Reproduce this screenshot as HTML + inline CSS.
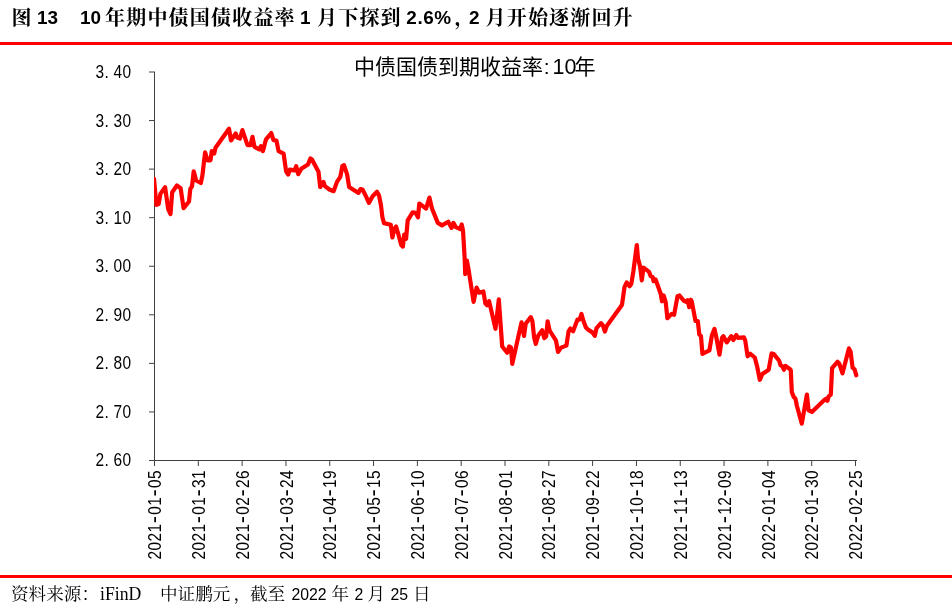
<!DOCTYPE html>
<html lang="zh-CN">
<head>
<meta charset="utf-8">
<title>图 13 10 年期中债国债收益率</title>
<style>
html,body{margin:0;padding:0;background:#fff;}
body{width:952px;height:612px;position:relative;overflow:hidden;}
.rule{position:absolute;left:0;width:952px;height:3px;background:#ff0000;}
.t{position:absolute;white-space:nowrap;color:#000;line-height:1;}
.title{top:8px;font-weight:bold;font-size:20px;letter-spacing:1.2px;font-family:"Liberation Sans","Noto Serif CJK SC",serif;}
.title .n{font-size:18.9px;letter-spacing:0;position:relative;top:-0.6px;font-family:"Liberation Sans",sans-serif;}
.src{top:585.7px;font-size:17.6px;font-family:"Liberation Serif","Noto Serif CJK SC",serif;}
.src .n{font-size:15.8px;font-family:"Liberation Sans",sans-serif;}
.src .b{font-family:"Liberation Serif",serif;font-size:19px;display:inline-block;transform:scaleX(0.93);transform-origin:left top;position:relative;top:-2.1px;}
.ct{top:56px;font-size:21px;font-family:"Liberation Sans","Noto Sans CJK SC",sans-serif;}
</style>
</head>
<body>
<div class="rule" style="top:42px"></div>
<div class="rule" style="top:575px"></div>
<div class="t title" style="left:11.5px">图</div>
<div class="t title" style="left:37px"><span class="n">13</span></div>
<div class="t title" style="left:80px"><span class="n">10</span></div>
<div class="t title" style="left:105px">年期中债国债收益率</div>
<div class="t title" style="left:300px"><span class="n">1</span></div>
<div class="t title" style="left:317px">月下探到</div>
<div class="t title" style="left:406.3px"><span class="n" style="letter-spacing:0.6px">2.6%</span></div>
<div class="t title" style="left:454.5px">，</div>
<div class="t title" style="left:469px"><span class="n">2</span></div>
<div class="t title" style="left:485.5px">月开始逐渐回升</div>
<div class="t ct" style="left:354px">中债国债到期收益率</div>
<div class="t ct" style="left:543.8px">:</div>
<div class="t ct" style="left:552.5px"><span style="font-size:21.5px">10</span></div>
<div class="t ct" style="left:574.5px">年</div>
<svg width="952" height="612" viewBox="0 0 952 612" style="position:absolute;left:0;top:0">
<g stroke="#404040" stroke-width="1" fill="none">
<line x1="154.5" y1="71.5" x2="154.5" y2="466"/>
<line x1="149" y1="460.5" x2="857" y2="460.5"/>
<line x1="149" y1="72.00" x2="154" y2="72.00"/>
<line x1="149" y1="120.56" x2="154" y2="120.56"/>
<line x1="149" y1="169.12" x2="154" y2="169.12"/>
<line x1="149" y1="217.69" x2="154" y2="217.69"/>
<line x1="149" y1="266.25" x2="154" y2="266.25"/>
<line x1="149" y1="314.81" x2="154" y2="314.81"/>
<line x1="149" y1="363.38" x2="154" y2="363.38"/>
<line x1="149" y1="411.94" x2="154" y2="411.94"/>
<line x1="198.31" y1="461" x2="198.31" y2="466"/>
<line x1="242.12" y1="461" x2="242.12" y2="466"/>
<line x1="285.94" y1="461" x2="285.94" y2="466"/>
<line x1="329.75" y1="461" x2="329.75" y2="466"/>
<line x1="373.56" y1="461" x2="373.56" y2="466"/>
<line x1="417.38" y1="461" x2="417.38" y2="466"/>
<line x1="461.19" y1="461" x2="461.19" y2="466"/>
<line x1="505.00" y1="461" x2="505.00" y2="466"/>
<line x1="548.81" y1="461" x2="548.81" y2="466"/>
<line x1="592.62" y1="461" x2="592.62" y2="466"/>
<line x1="636.44" y1="461" x2="636.44" y2="466"/>
<line x1="680.25" y1="461" x2="680.25" y2="466"/>
<line x1="724.06" y1="461" x2="724.06" y2="466"/>
<line x1="767.88" y1="461" x2="767.88" y2="466"/>
<line x1="811.69" y1="461" x2="811.69" y2="466"/>
<line x1="855.50" y1="461" x2="855.50" y2="466"/>
</g>
<g font-family="'Liberation Sans', sans-serif" font-size="18" fill="#000">
<text transform="translate(95.5,77.9) scale(0.86,1)" x="0.00 10.47 20.93 31.40" y="0">3.40</text>
<text transform="translate(95.5,126.5) scale(0.86,1)" x="0.00 10.47 20.93 31.40" y="0">3.30</text>
<text transform="translate(95.5,175.0) scale(0.86,1)" x="0.00 10.47 20.93 31.40" y="0">3.20</text>
<text transform="translate(95.5,223.6) scale(0.86,1)" x="0.00 10.47 20.93 31.40" y="0">3.10</text>
<text transform="translate(95.5,272.1) scale(0.86,1)" x="0.00 10.47 20.93 31.40" y="0">3.00</text>
<text transform="translate(95.5,320.7) scale(0.86,1)" x="0.00 10.47 20.93 31.40" y="0">2.90</text>
<text transform="translate(95.5,369.3) scale(0.86,1)" x="0.00 10.47 20.93 31.40" y="0">2.80</text>
<text transform="translate(95.5,417.8) scale(0.86,1)" x="0.00 10.47 20.93 31.40" y="0">2.70</text>
<text transform="translate(95.5,466.4) scale(0.86,1)" x="0.00 10.47 20.93 31.40" y="0">2.60</text>
<text transform="translate(161.1,559.4) rotate(-90) scale(0.86,1)" x="0.00 10.38 20.77 31.15 39.67 51.92 62.30 70.83 83.07 93.45" y="0">2021<tspan font-family="'Liberation Mono', monospace" font-size="22">-</tspan>01<tspan font-family="'Liberation Mono', monospace" font-size="22">-</tspan>05</text>
<text transform="translate(204.9,559.4) rotate(-90) scale(0.86,1)" x="0.00 10.38 20.77 31.15 39.67 51.92 62.30 70.83 83.07 93.45" y="0">2021<tspan font-family="'Liberation Mono', monospace" font-size="22">-</tspan>01<tspan font-family="'Liberation Mono', monospace" font-size="22">-</tspan>31</text>
<text transform="translate(248.7,559.4) rotate(-90) scale(0.86,1)" x="0.00 10.38 20.77 31.15 39.67 51.92 62.30 70.83 83.07 93.45" y="0">2021<tspan font-family="'Liberation Mono', monospace" font-size="22">-</tspan>02<tspan font-family="'Liberation Mono', monospace" font-size="22">-</tspan>26</text>
<text transform="translate(292.5,559.4) rotate(-90) scale(0.86,1)" x="0.00 10.38 20.77 31.15 39.67 51.92 62.30 70.83 83.07 93.45" y="0">2021<tspan font-family="'Liberation Mono', monospace" font-size="22">-</tspan>03<tspan font-family="'Liberation Mono', monospace" font-size="22">-</tspan>24</text>
<text transform="translate(336.4,559.4) rotate(-90) scale(0.86,1)" x="0.00 10.38 20.77 31.15 39.67 51.92 62.30 70.83 83.07 93.45" y="0">2021<tspan font-family="'Liberation Mono', monospace" font-size="22">-</tspan>04<tspan font-family="'Liberation Mono', monospace" font-size="22">-</tspan>19</text>
<text transform="translate(380.2,559.4) rotate(-90) scale(0.86,1)" x="0.00 10.38 20.77 31.15 39.67 51.92 62.30 70.83 83.07 93.45" y="0">2021<tspan font-family="'Liberation Mono', monospace" font-size="22">-</tspan>05<tspan font-family="'Liberation Mono', monospace" font-size="22">-</tspan>15</text>
<text transform="translate(424.0,559.4) rotate(-90) scale(0.86,1)" x="0.00 10.38 20.77 31.15 39.67 51.92 62.30 70.83 83.07 93.45" y="0">2021<tspan font-family="'Liberation Mono', monospace" font-size="22">-</tspan>06<tspan font-family="'Liberation Mono', monospace" font-size="22">-</tspan>10</text>
<text transform="translate(467.8,559.4) rotate(-90) scale(0.86,1)" x="0.00 10.38 20.77 31.15 39.67 51.92 62.30 70.83 83.07 93.45" y="0">2021<tspan font-family="'Liberation Mono', monospace" font-size="22">-</tspan>07<tspan font-family="'Liberation Mono', monospace" font-size="22">-</tspan>06</text>
<text transform="translate(511.6,559.4) rotate(-90) scale(0.86,1)" x="0.00 10.38 20.77 31.15 39.67 51.92 62.30 70.83 83.07 93.45" y="0">2021<tspan font-family="'Liberation Mono', monospace" font-size="22">-</tspan>08<tspan font-family="'Liberation Mono', monospace" font-size="22">-</tspan>01</text>
<text transform="translate(555.4,559.4) rotate(-90) scale(0.86,1)" x="0.00 10.38 20.77 31.15 39.67 51.92 62.30 70.83 83.07 93.45" y="0">2021<tspan font-family="'Liberation Mono', monospace" font-size="22">-</tspan>08<tspan font-family="'Liberation Mono', monospace" font-size="22">-</tspan>27</text>
<text transform="translate(599.2,559.4) rotate(-90) scale(0.86,1)" x="0.00 10.38 20.77 31.15 39.67 51.92 62.30 70.83 83.07 93.45" y="0">2021<tspan font-family="'Liberation Mono', monospace" font-size="22">-</tspan>09<tspan font-family="'Liberation Mono', monospace" font-size="22">-</tspan>22</text>
<text transform="translate(643.0,559.4) rotate(-90) scale(0.86,1)" x="0.00 10.38 20.77 31.15 39.67 51.92 62.30 70.83 83.07 93.45" y="0">2021<tspan font-family="'Liberation Mono', monospace" font-size="22">-</tspan>10<tspan font-family="'Liberation Mono', monospace" font-size="22">-</tspan>18</text>
<text transform="translate(686.9,559.4) rotate(-90) scale(0.86,1)" x="0.00 10.38 20.77 31.15 39.67 51.92 62.30 70.83 83.07 93.45" y="0">2021<tspan font-family="'Liberation Mono', monospace" font-size="22">-</tspan>11<tspan font-family="'Liberation Mono', monospace" font-size="22">-</tspan>13</text>
<text transform="translate(730.7,559.4) rotate(-90) scale(0.86,1)" x="0.00 10.38 20.77 31.15 39.67 51.92 62.30 70.83 83.07 93.45" y="0">2021<tspan font-family="'Liberation Mono', monospace" font-size="22">-</tspan>12<tspan font-family="'Liberation Mono', monospace" font-size="22">-</tspan>09</text>
<text transform="translate(774.5,559.4) rotate(-90) scale(0.86,1)" x="0.00 10.38 20.77 31.15 39.67 51.92 62.30 70.83 83.07 93.45" y="0">2022<tspan font-family="'Liberation Mono', monospace" font-size="22">-</tspan>01<tspan font-family="'Liberation Mono', monospace" font-size="22">-</tspan>04</text>
<text transform="translate(818.3,559.4) rotate(-90) scale(0.86,1)" x="0.00 10.38 20.77 31.15 39.67 51.92 62.30 70.83 83.07 93.45" y="0">2022<tspan font-family="'Liberation Mono', monospace" font-size="22">-</tspan>01<tspan font-family="'Liberation Mono', monospace" font-size="22">-</tspan>30</text>
<text transform="translate(862.1,559.4) rotate(-90) scale(0.86,1)" x="0.00 10.38 20.77 31.15 39.67 51.92 62.30 70.83 83.07 93.45" y="0">2022<tspan font-family="'Liberation Mono', monospace" font-size="22">-</tspan>02<tspan font-family="'Liberation Mono', monospace" font-size="22">-</tspan>25</text>
</g>
<defs><clipPath id="pc"><rect x="154" y="60" width="710" height="400"/></clipPath></defs>
<polyline clip-path="url(#pc)" points="154.0,178.8 156.4,204.9 158.7,204.0 160.4,193.9 165.1,187.2 168.2,209.1 170.5,214.1 172.2,192.3 176.9,185.5 180.6,188.1 183.6,208.2 189.0,201.5 190.3,188.9 192.0,186.4 193.7,171.3 196.2,180.5 200.8,183.0 202.4,175.5 205.1,152.3 207.5,160.3 210.5,160.3 211.8,151.1 214.2,153.6 215.5,147.7 229.0,128.7 231.0,140.5 235.7,133.4 237.1,137.6 239.9,138.5 242.4,130.1 247.5,145.2 250.5,145.2 252.5,136.8 254.5,146.9 259.2,149.4 260.9,146.1 262.9,151.1 266.0,139.3 271.3,133.1 273.5,140.2 276.4,140.5 278.6,151.1 283.6,153.6 286.1,171.3 288.2,174.6 289.8,169.6 294.5,170.4 296.2,166.2 298.2,174.1 301.3,168.7 308.0,164.5 310.4,158.4 312.1,159.7 318.5,171.8 320.2,187.0 323.5,181.9 324.9,186.1 329.4,189.5 333.6,191.2 337.0,181.9 340.3,176.9 342.4,166.0 344.0,165.1 347.1,174.4 349.1,187.0 353.8,190.0 358.5,192.9 360.5,189.0 362.5,189.5 366.4,197.1 368.9,202.9 372.6,196.2 377.0,191.7 379.0,195.4 381.0,205.5 382.4,217.2 384.0,223.1 390.8,224.8 392.4,237.4 394.5,229.0 396.1,226.5 398.3,234.0 401.2,245.0 402.9,246.6 404.2,234.6 406.1,238.8 407.7,220.3 412.6,212.3 415.5,212.8 418.0,217.3 419.3,203.5 426.1,208.6 429.4,197.6 431.9,208.2 437.8,222.9 442.0,225.4 448.2,221.7 451.6,227.9 453.4,222.9 455.8,227.1 460.2,229.1 461.7,224.5 463.0,230.4 464.7,259.0 465.2,274.1 466.9,260.7 468.9,271.7 473.6,301.9 476.6,287.6 479.0,292.7 483.4,291.5 485.4,303.6 487.1,305.3 489.1,301.1 495.5,328.8 498.8,299.4 502.2,346.5 507.2,352.7 509.2,346.5 510.9,347.3 512.3,363.8 521.5,322.4 524.0,335.9 525.7,323.8 530.8,317.1 532.4,321.3 534.1,337.2 535.8,343.9 538.3,335.5 542.2,330.2 544.2,338.1 546.2,336.4 547.6,321.3 549.6,330.5 556.0,340.6 558.0,352.0 561.0,347.6 566.4,345.6 568.6,331.3 570.3,328.5 573.1,331.3 577.5,319.6 579.5,319.6 581.5,314.0 583.4,320.7 585.9,327.4 588.4,329.9 592.1,332.1 594.8,335.8 596.5,328.2 601.0,323.2 602.7,324.9 604.9,331.6 606.9,325.7 620.3,307.2 622.0,304.7 624.5,287.1 626.7,282.4 629.6,286.2 631.3,284.0 633.4,271.1 636.8,245.0 638.0,258.5 640.2,266.9 641.8,280.3 643.5,267.7 648.9,271.6 650.6,276.1 652.6,277.0 653.6,281.2 655.6,279.5 660.7,293.8 662.0,301.3 663.7,295.5 665.7,302.2 667.4,318.2 671.6,313.9 674.1,314.8 676.1,303.9 677.5,296.3 679.5,295.5 683.9,300.8 686.2,301.8 687.6,300.2 689.2,307.2 690.9,299.7 691.8,301.7 695.5,321.0 697.8,321.0 699.3,334.5 701.0,336.1 702.4,353.8 709.4,350.4 711.9,335.3 714.5,328.9 716.1,336.1 719.5,354.6 722.0,337.8 723.4,336.1 726.7,342.4 731.3,336.1 733.4,340.0 736.3,335.0 738.0,337.8 743.9,337.3 745.2,340.3 747.6,356.3 750.3,353.8 754.8,357.5 757.3,367.2 759.8,379.8 762.4,373.9 768.7,369.7 771.6,353.4 773.8,354.1 779.2,360.8 780.5,365.2 782.5,366.4 783.9,369.7 785.5,365.9 790.1,369.2 790.8,370.3 791.8,392.1 793.8,397.1 795.5,398.8 796.8,405.5 801.8,423.7 806.9,394.6 808.6,410.3 811.9,411.9 824.0,400.2 826.1,398.8 827.4,400.8 828.7,396.3 830.8,394.6 832.1,368.2 837.5,361.8 839.2,363.5 842.5,373.3 848.9,348.4 850.6,351.8 852.6,367.7 854.6,369.4 856.3,375.3" fill="none" stroke="#ff0000" stroke-width="4.2" stroke-linejoin="round" stroke-linecap="round"/>
</svg>
<div class="t src" style="left:11px">资料来源：</div>
<div class="t src" style="left:100px"><span class="b">iFinD</span></div>
<div class="t src" style="left:160px">中证鹏元</div>
<div class="t src" style="left:233.5px">，</div>
<div class="t src" style="left:250px">截至</div>
<div class="t src" style="left:291.5px"><span class="n">2022</span></div>
<div class="t src" style="left:331.5px">年</div>
<div class="t src" style="left:354.5px"><span class="n">2</span></div>
<div class="t src" style="left:367.5px">月</div>
<div class="t src" style="left:390.5px"><span class="n">25</span></div>
<div class="t src" style="left:413px">日</div>
</body>
</html>
